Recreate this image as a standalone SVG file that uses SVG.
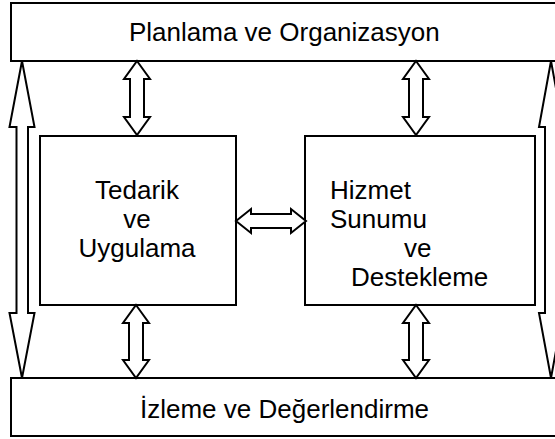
<svg xmlns="http://www.w3.org/2000/svg" width="555" height="439" viewBox="0 0 555 439">
<style>
.box{fill:#fff;stroke:#000;stroke-width:2}
.arr{fill:#fff;stroke:#000;stroke-width:2;stroke-linejoin:miter}
text{font-family:"Liberation Sans",Arial,sans-serif;font-size:26px;fill:#000}
</style>
<rect width="555" height="439" fill="#fff"/>
<g id="planlama">
<rect class="box" x="11" y="3" width="560" height="58"/>
<text x="129" y="41">Planlama ve Organizasyon</text>
</g>
<g id="izleme">
<rect class="box" x="11" y="378" width="560" height="58"/>
<text x="140" y="418">İzleme ve Değerlendirme</text>
</g>
<g id="tedarik">
<rect class="box" x="40" y="136" width="196" height="169"/>
<text x="137" y="199" text-anchor="middle">Tedarik</text>
<text x="137" y="228" text-anchor="middle">ve</text>
<text x="137" y="257" text-anchor="middle">Uygulama</text>
</g>
<g id="hizmet">
<rect class="box" x="305" y="136" width="230" height="169"/>
<text x="330" y="199">Hizmet</text>
<text x="330" y="228">Sunumu</text>
<text x="404" y="257">ve</text>
<text x="351" y="286">Destekleme</text>
</g>
<g id="connectors">
<path class="arr" d="M137,61 L150,79 L144,79 L144,117 L150,117 L137,135 L124,117 L130,117 L130,79 L124,79 Z"/>
<path class="arr" d="M416,61 L429,79 L423,79 L423,117 L429,117 L416,135 L403,117 L409,117 L409,79 L403,79 Z"/>
<path class="arr" d="M136,305 L149,323 L143,323 L143,360 L149,360 L136,378 L123,360 L129,360 L129,323 L123,323 Z"/>
<path class="arr" d="M416,305 L429,323 L423,323 L423,360 L429,360 L416,378 L403,360 L409,360 L409,323 L403,323 Z"/>
<path class="arr" d="M236,221 L251,209 L251,214 L291,214 L291,209 L306,221 L291,233 L291,228 L251,228 L251,233 Z"/>
<path class="arr" d="M22,61 L34.5,127 L28,127 L28,313 L34.5,313 L22,378 L9.5,313 L16.5,313 L16.5,127 L9.5,127 Z"/>
<path class="arr" d="M551,61 L563,127 L557,127 L557,313 L563,313 L551,378 L539,313 L545,313 L545,127 L539,127 Z"/>
</g>
</svg>
